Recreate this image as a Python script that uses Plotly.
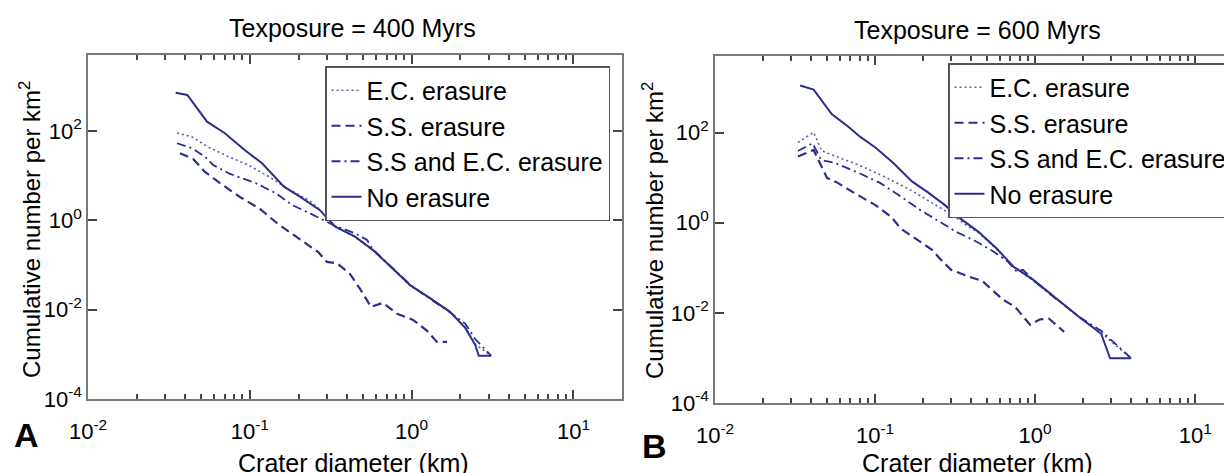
import plotly.graph_objects as go

# ---------------- data ----------------
# Panel A : Texposure = 400 Myrs
d_no_400 = [0.0348, 0.0411, 0.0544, 0.0701, 0.0929, 0.119, 0.1625, 0.204, 0.27, 0.337,
            0.447, 0.575, 0.741, 0.982, 1.30, 1.72, 2.15, 2.47, 2.60, 3.10]
n_no_400 = [719, 638, 161, 88.8, 37.6, 18.9, 5.67, 3.39, 1.71, 0.72,
            0.43, 0.218, 0.092, 0.035, 0.0181, 0.00906, 0.00385, 0.00163, 0.00093, 0.00093]

d_ec_400 = [0.0355, 0.044, 0.0552, 0.0733, 0.0975, 0.129, 0.177, 0.235, 0.27, 0.337,
            0.447, 0.575, 0.741, 0.982, 1.30, 1.72, 2.15, 2.47, 3.10]
n_ec_400 = [90.2, 73.4, 43.8, 26.9, 17.3, 9.84, 4.79, 2.72, 1.75, 0.74,
            0.42, 0.214, 0.091, 0.034, 0.0178, 0.0089, 0.0040, 0.0017, 0.00093]

d_ssec_400 = [0.0355, 0.044, 0.0528, 0.0593, 0.0755, 0.109, 0.145, 0.182, 0.239, 0.336,
              0.447, 0.53, 0.575, 0.741, 0.982, 1.30, 1.72, 2.15, 2.47, 3.10]
n_ssec_400 = [53.1, 41.0, 26.6, 17.3, 10.9, 6.76, 4.04, 2.21, 1.39, 0.748,
              0.514, 0.364, 0.225, 0.094, 0.036, 0.0175, 0.0088, 0.0048, 0.0022, 0.00093]

d_ss_400 = [0.037, 0.0446, 0.0528, 0.0664, 0.0869, 0.1156, 0.149, 0.182, 0.216, 0.264, 0.30,
            0.346, 0.416, 0.48, 0.561, 0.665, 0.813, 1.02, 1.245, 1.435, 1.655]
n_ss_400 = [31.7, 23.6, 12.1, 6.52, 3.33, 1.80, 0.83, 0.497, 0.329, 0.196, 0.117,
            0.109, 0.0632, 0.0292, 0.0115, 0.0142, 0.00805, 0.00591, 0.00336, 0.0019, 0.0019]

# Panel B : Texposure = 600 Myrs
d_no_600 = [0.034, 0.0413, 0.0536, 0.0678, 0.0805, 0.1014, 0.1306, 0.170, 0.214, 0.272,
            0.340, 0.443, 0.577, 0.731, 0.975, 1.30, 1.91, 2.585, 2.94, 3.98]
n_no_600 = [1112, 902, 259, 137, 81.4, 45.7, 20.9, 8.26, 4.71, 2.49,
            1.25, 0.628, 0.264, 0.107, 0.054, 0.0231, 0.00778, 0.00344, 0.00098, 0.00098]

d_ec_600 = [0.033, 0.0413, 0.0465, 0.0596, 0.083, 0.117, 0.166, 0.227, 0.303, 0.376,
            0.443, 0.577, 0.731, 0.975, 1.30, 1.91, 2.585, 3.98]
n_ec_600 = [60.5, 101, 39.2, 28.1, 17.8, 10.1, 5.36, 2.76, 1.50, 0.853,
            0.60, 0.255, 0.104, 0.052, 0.0225, 0.0077, 0.0036, 0.00098]

d_ssec_600 = [0.033, 0.0407, 0.046, 0.0562, 0.0805, 0.1074, 0.143, 0.191, 0.255, 0.321,
              0.41, 0.546, 0.678, 0.76, 0.841, 0.975, 1.30, 1.91, 2.585, 3.98]
n_ssec_600 = [39.2, 58.1, 24.8, 21.2, 12.4, 7.66, 3.94, 1.93, 1.04, 0.628,
              0.417, 0.232, 0.136, 0.0857, 0.090, 0.053, 0.0228, 0.0079, 0.0040, 0.00098]

d_ss_600 = [0.033, 0.0413, 0.0501, 0.057, 0.075, 0.1, 0.126, 0.1454, 0.180, 0.227, 0.2585,
            0.2985, 0.381, 0.467, 0.546, 0.631, 0.75, 0.841, 0.931, 1.075, 1.223, 1.517]
n_ss_600 = [29.6, 41.3, 9.89, 8.06, 4.48, 2.49, 1.35, 0.731, 0.439, 0.25, 0.150,
            0.0902, 0.0647, 0.0514, 0.0308, 0.0195, 0.0136, 0.0084, 0.00543, 0.0072, 0.0074, 0.0038]

series_names = ["E.C. erasure", "S.S. erasure", "S.S and E.C. erasure", "No erasure"]
panel_titles = ["Texposure = 400 Myrs", "Texposure = 600 Myrs"]
panel_letters = ["A", "B"]
x_title = "Crater diameter (km)"
y_title = "Cumulative number per km<sup>2</sup>"
x_tick_vals = [0.01, 0.1, 1, 10]
x_tick_text = ["10<sup>-2</sup>", "10<sup>-1</sup>", "10<sup>0</sup>", "10<sup>1</sup>"]
y_tick_vals = [1e-4, 1e-2, 1, 1e2]
y_tick_text = ["10<sup>-4</sup>", "10<sup>-2</sup>", "10<sup>0</sup>", "10<sup>2</sup>"]
x_minor_vals = [m * v for v in x_tick_vals for m in range(2, 10)]

# ---------------- styling / layout ----------------
# The page body has an 8px default margin, so the figure is drawn 8px in from the
# window corner; screen positions below are converted to figure positions.
PAGE_MARGIN = 8
WIN_W, WIN_H = 1232, 473
W, H = WIN_W - PAGE_MARGIN, WIN_H - PAGE_MARGIN


def fx(px):
    return (px - PAGE_MARGIN) / W


def fy(py):
    return 1 - (py - PAGE_MARGIN) / H


NAVY = "#2c2e8c"
AXC = "#7a7a7a"
TICKC = "#444444"
FONT = "Liberation Sans, Arial, sans-serif"
TICK_SIZE = 22
TEXT_SIZE = 25

styles = {
    "E.C. erasure": dict(color="#5a5ca6", width=1.6, dash="2px,3px"),
    "S.S. erasure": dict(color=NAVY, width=2.2, dash="9px,5px"),
    "S.S and E.C. erasure": dict(color=NAVY, width=1.8, dash="9px,4px,2px,4px"),
    "No erasure": dict(color=NAVY, width=2.0, dash="solid"),
}

panels = [
    dict(xa="x", ya="y", legend="legend",
         data=[(d_ec_400, n_ec_400), (d_ss_400, n_ss_400), (d_ssec_400, n_ssec_400), (d_no_400, n_no_400)]),
    dict(xa="x2", ya="y2", legend="legend2",
         data=[(d_ec_600, n_ec_600), (d_ss_600, n_ss_600), (d_ssec_600, n_ssec_600), (d_no_600, n_no_600)]),
]

fig = go.Figure()
for p in panels:
    for name, (d, n) in zip(series_names, p["data"]):
        fig.add_trace(go.Scatter(x=d, y=n, mode="lines", name=name, line=styles[name],
                                 xaxis=p["xa"], yaxis=p["ya"], legend=p["legend"]))


def xcfg(domain, rng, anchor):
    return dict(type="log", domain=domain, range=rng, anchor=anchor,
                showline=True, linecolor=AXC, linewidth=1.5, mirror="allticks",
                ticks="inside", ticklen=9, tickwidth=2, tickcolor=TICKC,
                tickvals=x_tick_vals, ticktext=x_tick_text,
                tickfont=dict(size=TICK_SIZE, color="black", family=FONT),
                ticklabelstandoff=12, gridcolor="white",
                minor=dict(ticks="inside", ticklen=5, tickwidth=1.5, tickcolor=TICKC,
                           tickvals=x_minor_vals))


def ycfg(domain, rng, anchor, mirror):
    return dict(type="log", domain=domain, range=rng, anchor=anchor,
                showline=True, linecolor=AXC, linewidth=1.5, mirror=mirror,
                ticks="inside", ticklen=9, tickwidth=2, tickcolor=TICKC,
                tickvals=y_tick_vals, ticktext=y_tick_text,
                tickfont=dict(size=TICK_SIZE, color="black", family=FONT),
                gridcolor="white")


legend_common = dict(xanchor="left", yanchor="top", bordercolor="#555555", borderwidth=1.5,
                     bgcolor="white", font=dict(size=TEXT_SIZE, color="black", family=FONT),
                     tracegroupgap=0, itemwidth=30)

fig.update_layout(
    width=W, height=H,
    margin=dict(l=0, r=0, t=0, b=0, autoexpand=False),
    paper_bgcolor="white", plot_bgcolor="white",
    font=dict(family=FONT, color="black"),
    xaxis=xcfg([fx(88), fx(622)], [-2, 1.30], "y"),
    yaxis=ycfg([fy(399), fy(55)], [-4, 3.7], "x", "allticks"),
    xaxis2=xcfg([fx(715), 1.0], [-2, 1.23], "y2"),
    yaxis2=ycfg([fy(403), fy(56)], [-4, 3.7], "x2", False),
    legend=dict(x=fx(325), y=fy(66), **legend_common),
    legend2=dict(x=fx(948), y=fy(63), **legend_common),
    showlegend=True,
)

ann = []
for title, cx, cy in zip(panel_titles, [352, 977], [28, 30]):
    ann.append(dict(text=title, x=fx(cx), y=fy(cy), xref="paper", yref="paper",
                    xanchor="center", yanchor="middle", showarrow=False,
                    font=dict(size=TEXT_SIZE)))
for cx in [353, 977]:
    ann.append(dict(text=x_title, x=fx(cx), y=fy(463), xref="paper", yref="paper",
                    xanchor="center", yanchor="middle", showarrow=False,
                    font=dict(size=TEXT_SIZE)))
for cx, cy in [(30, 230), (653, 231)]:
    ann.append(dict(text=y_title, x=fx(cx), y=fy(cy), xref="paper", yref="paper",
                    xanchor="center", yanchor="middle", showarrow=False, textangle=-90,
                    font=dict(size=24)))
for letter, cx, cy in zip(panel_letters, [26, 654], [435, 446]):
    ann.append(dict(text="<b>" + letter + "</b>", x=fx(cx), y=fy(cy), xref="paper", yref="paper",
                    xanchor="center", yanchor="middle", showarrow=False, font=dict(size=34)))
fig.update_layout(annotations=ann)

fig.write_html("out.html")
